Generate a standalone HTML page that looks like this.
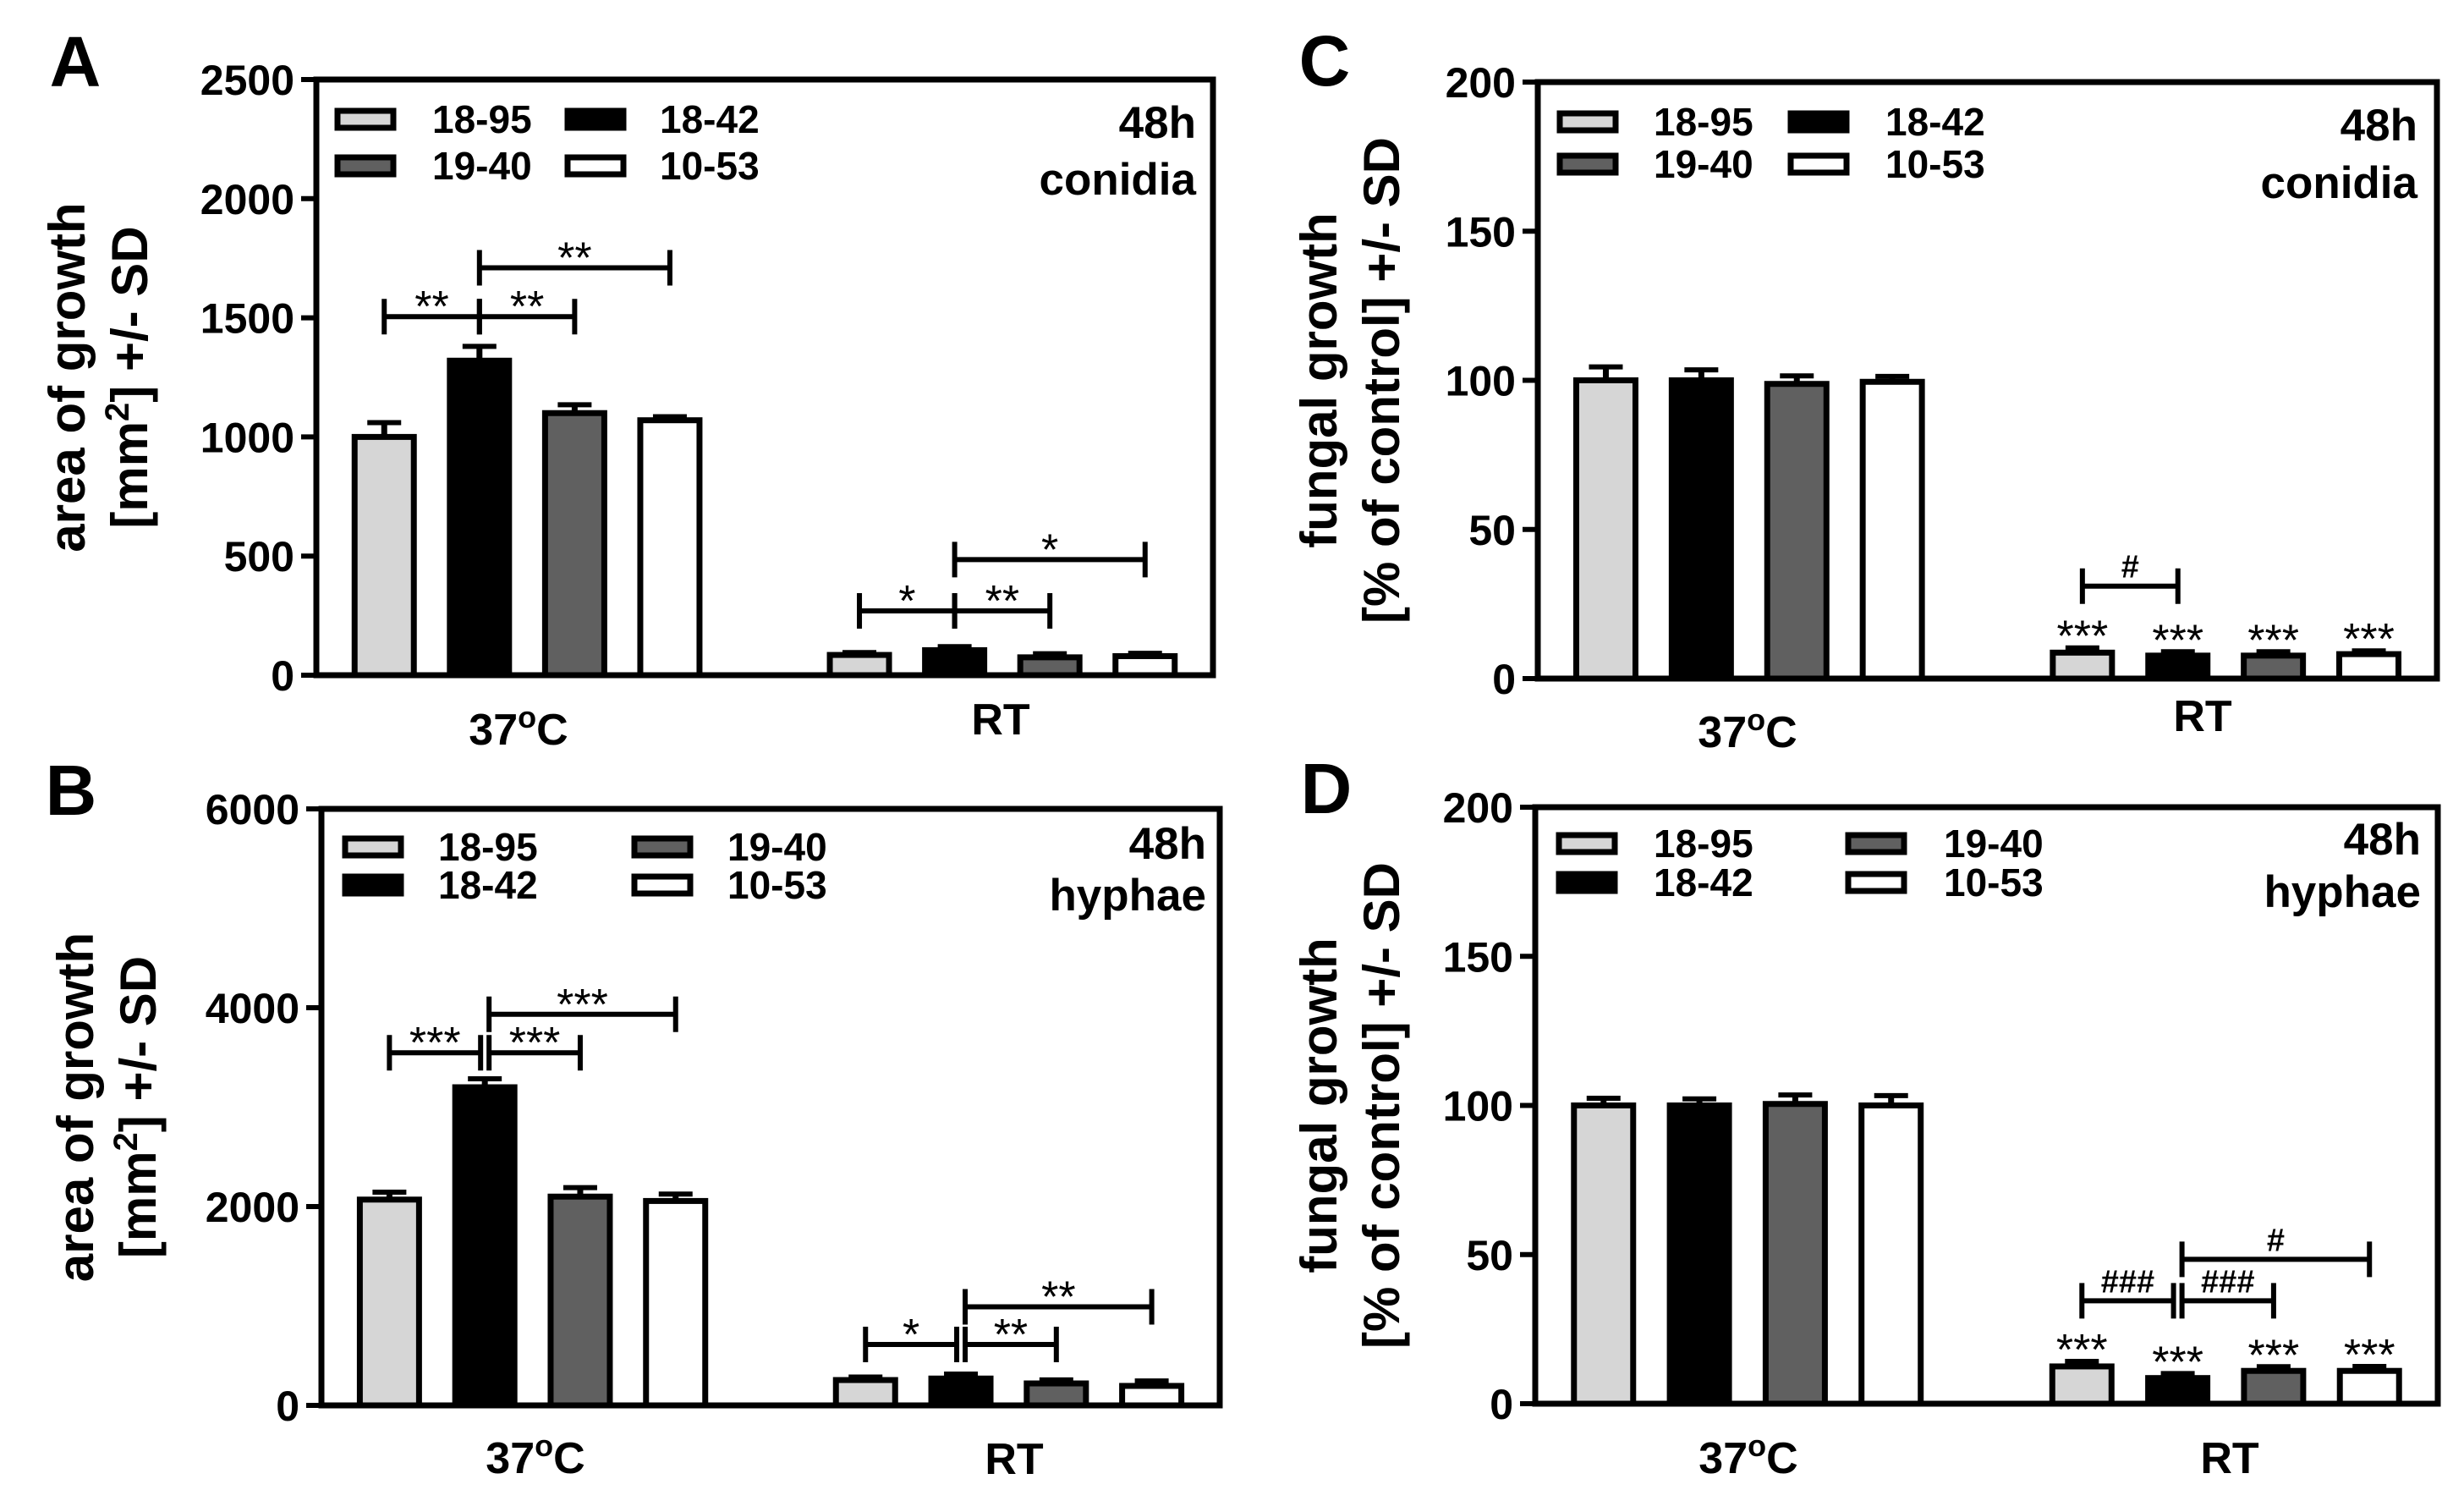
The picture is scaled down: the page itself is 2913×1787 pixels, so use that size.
<!DOCTYPE html>
<html><head><meta charset="utf-8"><style>
html,body{margin:0;padding:0;background:#fff;}
svg{display:block;font-family:"Liberation Sans",sans-serif;font-weight:bold;}
</style></head><body>
<svg id="fig" width="2913" height="1787" viewBox="0 0 2913 1787" xmlns="http://www.w3.org/2000/svg"></svg>
<script>
const strains = ['18-95','18-42','19-40','10-53'];
const groups = ['37°C','RT'];
const strainFills = ['#d6d6d6','#000000','#606060','#ffffff'];

// Panel A (conidia, area)
const aTicks = [0,500,1000,1500,2000,2500];
const aMeans37 = [1000,1320,1100,1070];
const aSD37 = [60,60,35,15];
const aMeansRT = [85,105,75,80];
const aSDRT = [10,15,15,12];
const aBrackets = [[0,1,1505,'**'],[1,2,1505,'**'],[1,3,1710,'**'],[4,5,270,'*'],[5,6,270,'**'],[5,7,485,'*']];
// Panel B (hyphae, area)
const bTicks = [0,2000,4000,6000];
const bMeans37 = [2070,3200,2100,2056];
const bSD37 = [75,85,90,70];
const bMeansRT = [255,270,221,196];
const bSDRT = [30,45,35,50];
const bBrackets = [[0,1,3547,'***'],[1,2,3547,'***'],[1,3,3934,'***'],[4,5,613,'*'],[5,6,613,'**'],[5,7,991,'**']];
// Panel C (conidia, % control)
const cTicks = [0,50,100,150,200];
const cMeans37 = [100,100,98.8,99.5];
const cSD37 = [4.5,3.5,2.7,1.8];
const cMeansRT = [8.7,7.7,7.7,8.2];
const cSDRT = [1.6,1.3,1.3,1.1];
const cStarsRT = ['***','***','***','***'];
const cBrackets = [[4,5,31,'#']];
// Panel D (hyphae, % control)
const dTicks = [0,50,100,150,200];
const dMeans37 = [100,100,100.5,100];
const dSD37 = [2.4,2.2,3,3.3];
const dMeansRT = [12.5,8.6,11,11];
const dSDRT = [1.7,1.5,1.4,1.5];
const dStarsRT = ['***','***','***','***'];
const dBrackets = [[4,5,34.5,'###'],[5,6,34.5,'###'],[5,7,48.4,'#']];

const NS='http://www.w3.org/2000/svg';
const svg=document.getElementById('fig');
function mk(tag,attrs,parent){const e=document.createElementNS(NS,tag);for(const k in attrs)e.setAttribute(k,attrs[k]);(parent||svg).appendChild(e);return e;}

function panel(cfg){
  const g=mk('g',{});
  
  
  const L=cfg.left,R=cfg.right,T=cfg.top,B=cfg.bottom,W=R-L;
  const yMax=cfg.ticks[cfg.ticks.length-1];
  const y=v=>B-v/yMax*(B-T);
  const gc=[L+0.235*W,L+0.765*W];
  const sp=0.1062*W, bw=70;
  const xb=idx=>gc[Math.floor(idx/4)]+((idx%4)-1.5)*sp;
  const means=[cfg.m37,cfg.mRT], sds=[cfg.s37,cfg.sRT];
  for(let gi=0;gi<2;gi++)for(let i=0;i<4;i++){
    const idx=gi*4+i,cx=xb(idx),v=means[gi][i],e=sds[gi][i];
    const eb=mk('line',{x1:cx,x2:cx,y1:y(v),y2:y(v+e),stroke:'#000','stroke-width':7},g);
    
    
    const cap=mk('line',{x1:cx-20,x2:cx+20,y1:y(v+e),y2:y(v+e),stroke:'#000','stroke-width':6},g);
    
    
    const r=mk('rect',{x:cx-bw/2,y:y(v),width:bw,height:B-y(v),fill:strainFills[i],stroke:'#000','stroke-width':7},g);
    
    
    if(gi===1&&cfg.stars){
      const t=mk('text',{x:cx,y:y(v+e)+4,'text-anchor':'middle','font-size':52,'font-weight':'normal'},g);
      t.textContent=cfg.stars[i];
      
      
    }
  }
  cfg.brackets.forEach(bk=>{
    let x1=xb(bk[0]),x2=xb(bk[1]);
    if(cfg.split){ if(bk[0]%4===1) x1+=5; if(bk[1]%4===1) x2-=5; }
    const yy=y(bk[2]);
    const bg=mk('g',{},g);
    
    
    mk('line',{x1:x1,x2:x2,y1:yy,y2:yy,stroke:'#000','stroke-width':6},bg);
    mk('line',{x1:x1,x2:x1,y1:yy-21,y2:yy+21,stroke:'#000','stroke-width':6},bg);
    mk('line',{x1:x2,x2:x2,y1:yy-21,y2:yy+21,stroke:'#000','stroke-width':6},bg);
    const isHash=bk[3].indexOf('#')>=0;
    const t=mk('text',{x:(x1+x2)/2,y:isHash?yy-10:yy+6,'text-anchor':'middle','font-size':isHash?38:52,'font-weight':isHash?'bold':'normal'},bg);
    t.textContent=bk[3];
  });
  const fr=mk('rect',{x:L,y:T,width:W,height:B-T,fill:'none',stroke:'#000','stroke-width':7},g);
  
  
  cfg.ticks.forEach(tv=>{
    const yy=y(tv);
    const tk=mk('line',{x1:L-18,x2:L,y1:yy,y2:yy,stroke:'#000','stroke-width':6},g);
    
    
    const tl=mk('text',{x:L-26,y:yy+18,'text-anchor':'end','font-size':50},g);
    tl.textContent=tv;
    
    
  });
  const yt=mk('text',{transform:`translate(${cfg.titleX},${(T+B)/2}) rotate(-90)`,'text-anchor':'middle','font-size':60},g);
  
  
  const l1=mk('tspan',{x:0,y:0},yt); l1.textContent=cfg.title1;
  const l2=mk('tspan',{x:0,y:cfg.lineGap},yt);
  cfg.title2.forEach(p=>{const s=mk('tspan',p.sup?{dy:-22,'font-size':40}:(p.after?{dy:22}:{}),l2);s.textContent=p.t;});
  [[cfg.x37,cfg.y37],[cfg.xRT,cfg.yRT]].forEach((p,gi)=>{
    const t=mk('text',{x:p[0],y:p[1],'text-anchor':'middle','font-size':52},g);
    
    
    if(gi===0){const a=mk('tspan',{},t);a.textContent='37';const b=mk('tspan',{dy:-20,'font-size':36},t);b.textContent='o';const c=mk('tspan',{dy:20},t);c.textContent='C';}
    else t.textContent=groups[1];
  });
  cfg.legend.forEach(it=>{
    const lg=mk('g',{},g);
    
    
    mk('rect',{x:it.x,y:it.y-10,width:66,height:20,fill:strainFills[it.s],stroke:'#000','stroke-width':7},lg);
    const t=mk('text',{x:it.tx,y:it.y+16,'font-size':46},lg);
    t.textContent=strains[it.s];
  });
  const a1=mk('text',{x:cfg.annX,y:cfg.ann1Y,'text-anchor':'end','font-size':53},g);a1.textContent='48h';
  
  
  const a2=mk('text',{x:cfg.annX,y:cfg.ann2Y,'text-anchor':'end','font-size':53},g);a2.textContent=cfg.ann2;
  
  
  const pl=mk('text',{x:cfg.letterX,y:cfg.letterY,'text-anchor':'middle','font-size':84},g);pl.textContent=cfg.id;
  
  
}
const mm2=[{t:'[mm'},{t:'2',sup:true},{t:'] +/- SD',after:true}];
const pct=[{t:'[% of control] +/- SD'}];
panel({id:'A',left:374,right:1434,top:94,bottom:798,ticks:aTicks,m37:aMeans37,s37:aSD37,mRT:aMeansRT,sRT:aSDRT,brackets:aBrackets,
  titleX:100,lineGap:74,title1:'area of growth',title2:mm2,x37:613,y37:880,xRT:1183,yRT:868,
  legend:[{s:0,x:399,y:141,tx:511},{s:1,x:671,y:141,tx:780},{s:2,x:399,y:196,tx:511},{s:3,x:671,y:196,tx:780}],
  annX:1414,ann1Y:163,ann2Y:230,ann2:'conidia',letterX:89,letterY:102});
panel({id:'B',left:380,right:1442,top:956,bottom:1661,ticks:bTicks,m37:bMeans37,s37:bSD37,mRT:bMeansRT,sRT:bSDRT,brackets:bBrackets,split:true,
  titleX:110,lineGap:74,title1:'area of growth',title2:mm2,x37:633,y37:1741,xRT:1199,yRT:1742,
  legend:[{s:0,x:408,y:1001,tx:518},{s:2,x:750,y:1001,tx:860},{s:1,x:408,y:1046,tx:518},{s:3,x:750,y:1046,tx:860}],
  annX:1426,ann1Y:1015,ann2Y:1076,ann2:'hyphae',letterX:84,letterY:963});
panel({id:'C',left:1818,right:2881,top:97,bottom:802,ticks:cTicks,m37:cMeans37,s37:cSD37,mRT:cMeansRT,sRT:cSDRT,brackets:cBrackets,stars:cStarsRT,
  titleX:1580,lineGap:74,title1:'fungal growth',title2:pct,x37:2066,y37:883,xRT:2604,yRT:864,
  legend:[{s:0,x:1844,y:144,tx:1955},{s:1,x:2117,y:144,tx:2229},{s:2,x:1844,y:194,tx:1955},{s:3,x:2117,y:194,tx:2229}],
  annX:2858,ann1Y:166,ann2Y:234,ann2:'conidia',letterX:1566,letterY:101});
panel({id:'D',left:1815,right:2882,top:954,bottom:1659,ticks:dTicks,m37:dMeans37,s37:dSD37,mRT:dMeansRT,sRT:dSDRT,brackets:dBrackets,stars:dStarsRT,split:true,
  titleX:1580,lineGap:74,title1:'fungal growth',title2:pct,x37:2067,y37:1741,xRT:2636,yRT:1741,
  legend:[{s:0,x:1843,y:997,tx:1955},{s:2,x:2185,y:997,tx:2298},{s:1,x:1843,y:1043,tx:1955},{s:3,x:2185,y:1043,tx:2298}],
  annX:2862,ann1Y:1010,ann2Y:1072,ann2:'hyphae',letterX:1568,letterY:961});
</script>
</body></html>
